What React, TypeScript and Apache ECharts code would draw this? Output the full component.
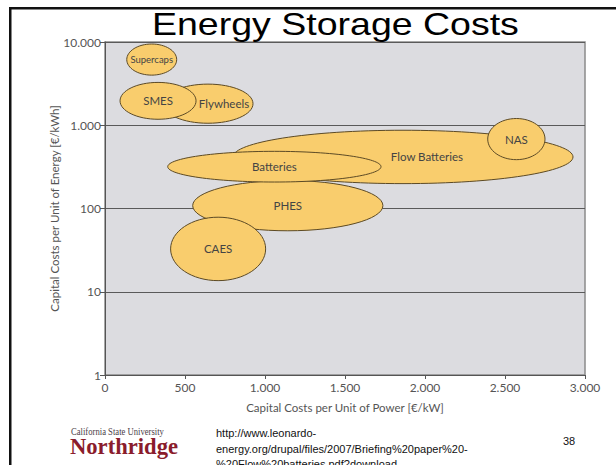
import React, { useEffect, useRef } from "react";
import * as echarts from "echarts";

// Technologies (drawing order: later ones on top)
const technologies = ["Flow Batteries", "NAS", "PHES", "Batteries", "CAES", "Flywheels", "SMES", "Supercaps"];
// Capital cost per unit of power [€/kW] – extent of each ellipse
const powerMin = [800, 2392, 548, 392, 410, 362, 94, 136];
const powerMax = [2925, 2750, 1737, 1725, 1004, 925, 569, 448];
// Capital cost per unit of energy [€/kWh] – extent of each ellipse
const energyMin = [199, 386, 54, 208, 13.6, 1057, 1180, 4000];
const energyMax = [871, 1205, 217, 486, 78.6, 3120, 3270, 9460];
// Where the label sits along the power axis (null = centre)
const labelPower: (number | null)[] = [2012, null, null, null, null, 744, null, null];

const xTicks = [0, 500, 1000, 1500, 2000, 2500, 3000];
const yTicks = [1, 10, 100, 1000, 10000];

const title = "Energy Storage Costs";
const urlLines = [
  "http://www.leonardo-",
  "energy.org/drupal/files/2007/Briefing%20paper%20-",
  "%20Flow%20batteries.pdf?download",
];
const pageNumber = "38";

function fmt(v: number): string {
  const s = String(Math.round(v));
  return s.replace(/\B(?=(\d{3})+(?!\d))/g, ".");
}

function measure(text: string, font: string): number {
  const c = document.createElement("canvas").getContext("2d");
  if (!c) return text.length * 10;
  c.font = font;
  return c.measureText(text).width;
}

export default function App() {
  const ref = useRef<HTMLDivElement>(null);
  useEffect(() => {
    if (!ref.current) return;
    const chart = echarts.init(ref.current, null, { renderer: "svg" });

    const titleFont = '32px "Liberation Sans", Arial, sans-serif';
    const titleScale = 367 / measure(title, titleFont);
    const nrFont = 'bold 23px "Liberation Serif", "Times New Roman", serif';
    const nrScale = 108 / measure("Northridge", nrFont);
    const csuFont = '11px "Liberation Serif", "Times New Roman", serif';
    const csuScale = 93 / measure("California State University", csuFont);

    const data = technologies.map((name, i) => ({
      name,
      value: [
        powerMin[i],
        powerMax[i],
        energyMin[i],
        energyMax[i],
        labelPower[i] == null ? (powerMin[i] + powerMax[i]) / 2 : (labelPower[i] as number),
      ],
    }));

    const option: any = {
      animation: false,
      grid: {
        left: 105,
        top: 42,
        width: 480,
        height: 333,
        show: true,
        backgroundColor: "#dcdce0",
        borderColor: "#8a8a8a",
        borderWidth: 1.5,
        containLabel: false,
      },
      xAxis: {
        type: "value",
        min: xTicks[0],
        max: xTicks[xTicks.length - 1],
        interval: 500,
        name: "Capital Costs per Unit of Power [€/kW]",
        nameLocation: "middle",
        nameGap: 26,
        nameMoveOverlap: false,
        nameTextStyle: { fontFamily: "Lato", fontSize: 11.5, color: "#555" },
        axisLine: { show: true, lineStyle: { color: "#555", width: 1 } },
        axisTick: { show: true, length: 4, lineStyle: { color: "#555" } },
        axisLabel: { formatter: fmt, fontFamily: "Lato", fontSize: 12, color: "#555", margin: 6 },
        splitLine: { show: false },
      },
      yAxis: {
        type: "log",
        logBase: 10,
        min: yTicks[0],
        max: yTicks[yTicks.length - 1],
        name: "Capital Costs per Unit of Energy [€/kWh]",
        nameLocation: "middle",
        nameGap: 45,
        nameMoveOverlap: false,
        nameTextStyle: { fontFamily: "Lato", fontSize: 11.5, color: "#555" },
        axisLine: { show: true, lineStyle: { color: "#555", width: 1 } },
        axisTick: { show: true, length: 5, lineStyle: { color: "#555" } },
        axisLabel: { formatter: fmt, fontFamily: "Lato", fontSize: 12, color: "#555", margin: 4 },
        splitLine: { show: true, lineStyle: { color: "#5a5a5a", width: 1 } },
        minorTick: { show: false },
      },
      series: [
        {
          type: "custom",
          data,
          encode: { x: [0, 1], y: [2, 3] },
          renderItem: (params: any, api: any) => {
            const x0 = api.value(0);
            const x1 = api.value(1);
            const y0 = api.value(2);
            const y1 = api.value(3);
            const lx = api.value(4);
            const p1 = api.coord([x0, y1]);
            const p2 = api.coord([x1, y0]);
            const cx = (p1[0] + p2[0]) / 2;
            const cy = (p1[1] + p2[1]) / 2;
            const rx = Math.abs(p2[0] - p1[0]) / 2;
            const ry = Math.abs(p2[1] - p1[1]) / 2;
            const tx = api.coord([lx, y0])[0];
            const name = technologies[params.dataIndex];
            const fs = name === "Supercaps" ? 9.5 : 11.5;
            return {
              type: "group",
              children: [
                {
                  type: "ellipse",
                  shape: { cx, cy, rx, ry },
                  style: { fill: "#f9cd6d", stroke: "#5c4a25", lineWidth: 1 },
                },
                {
                  type: "text",
                  z2: 50,
                  style: {
                    text: name,
                    x: tx,
                    y: cy,
                    align: "center",
                    verticalAlign: "middle",
                    textAlign: "center",
                    textVerticalAlign: "middle",
                    fill: "#444",
                    font: `${fs}px Lato, sans-serif`,
                  },
                },
              ],
            };
          },
        },
      ],
      graphic: [
        { type: "rect", shape: { x: 9, y: 7, width: 607, height: 2.5 }, style: { fill: "#111" } },
        { type: "rect", shape: { x: 9, y: 7, width: 2.5, height: 458 }, style: { fill: "#111" } },
        {
          type: "text",
          x: 152,
          y: 24,
          scaleX: titleScale,
          style: {
            text: title,
            font: titleFont,
            fill: "#000",
            textAlign: "left",
            textVerticalAlign: "middle",
          },
        },
        {
          type: "text",
          x: 71,
          y: 431,
          scaleX: csuScale,
          style: {
            text: "California State University",
            font: csuFont,
            fill: "#4b3d48",
            textAlign: "left",
            textVerticalAlign: "middle",
          },
        },
        {
          type: "text",
          x: 70,
          y: 446,
          scaleX: nrScale,
          style: {
            text: "Northridge",
            font: nrFont,
            fill: "#8a1c2c",
            textAlign: "left",
            textVerticalAlign: "middle",
          },
        },
        ...urlLines.map((t, i) => ({
          type: "text",
          x: 216,
          y: 433 + i * 15.5,
          style: {
            text: t,
            font: '11px "Liberation Sans", Arial, sans-serif',
            fill: "#111",
            textAlign: "left",
            textVerticalAlign: "middle",
          },
        })),
        {
          type: "text",
          x: 563,
          y: 441,
          style: {
            text: pageNumber,
            font: '11px "Liberation Sans", Arial, sans-serif',
            fill: "#111",
            textAlign: "left",
            textVerticalAlign: "middle",
          },
        },
      ],
    };
    chart.setOption(option);
    return () => chart.dispose();
  }, []);

  return (
    <div
      ref={ref}
      style={{ position: "fixed", left: 0, top: 0, width: 616, height: 465, background: "#fff" }}
    />
  );
}
